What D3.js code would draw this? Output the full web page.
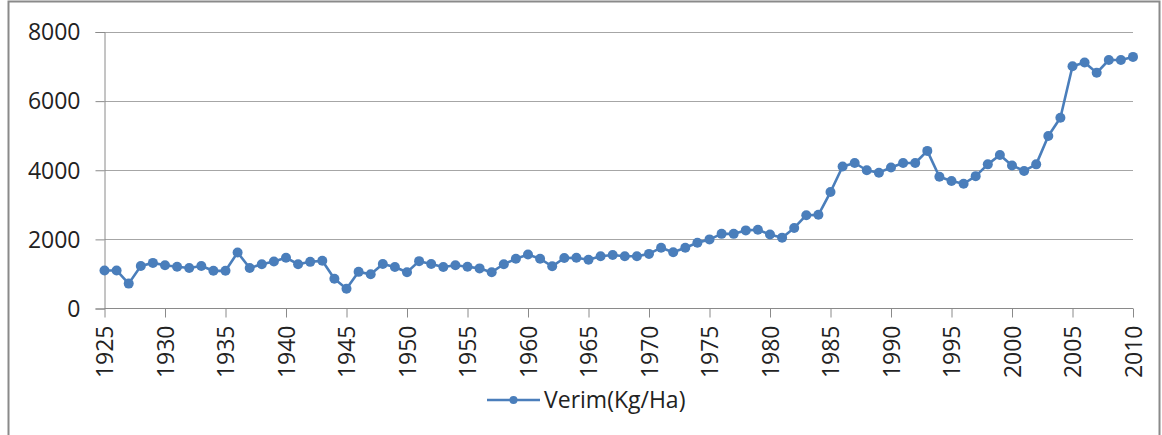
<!DOCTYPE html>
<html>
<head>
<meta charset="utf-8">
<script src="https://cdn.jsdelivr.net/npm/d3@7"></script>
<style>
  body { margin: 0; background: #fff; }
  svg text { font-family: "Open Sans", sans-serif; fill: #222; }
</style>
</head>
<body>
<div id="chart"></div>
<script>
// yield per year (Kg/Ha)
const years = [1925, 1926, 1927, 1928, 1929, 1930, 1931, 1932, 1933, 1934,
    1935, 1936, 1937, 1938, 1939, 1940, 1941, 1942, 1943, 1944,
    1945, 1946, 1947, 1948, 1949, 1950, 1951, 1952, 1953, 1954,
    1955, 1956, 1957, 1958, 1959, 1960, 1961, 1962, 1963, 1964,
    1965, 1966, 1967, 1968, 1969, 1970, 1971, 1972, 1973, 1974,
    1975, 1976, 1977, 1978, 1979, 1980, 1981, 1982, 1983, 1984,
    1985, 1986, 1987, 1988, 1989, 1990, 1991, 1992, 1993, 1994,
    1995, 1996, 1997, 1998, 1999, 2000, 2001, 2002, 2003, 2004,
    2005, 2006, 2007, 2008, 2009, 2010]

const verim = [1100, 1100, 720, 1230, 1320, 1250, 1210, 1170, 1230, 1090,
    1090, 1620, 1170, 1280, 1360, 1470, 1280, 1350, 1380, 860,
    570, 1060, 990, 1290, 1200, 1050, 1370, 1290, 1200, 1250,
    1210, 1160, 1050, 1280, 1440, 1560, 1440, 1220, 1460, 1470,
    1410, 1510, 1550, 1510, 1510, 1580, 1760, 1630, 1760, 1900,
    2000, 2160, 2160, 2260, 2280, 2140, 2050, 2330, 2700, 2710,
    3370, 4110, 4210, 4000, 3930, 4080, 4210, 4210, 4560, 3810,
    3690, 3610, 3830, 4170, 4440, 4140, 3980, 4170, 4990, 5520,
    7010, 7120, 6820, 7190, 7190, 7280]

const xTicks = [1925, 1930, 1935, 1940, 1945, 1950, 1955, 1960, 1965, 1970,
    1975, 1980, 1985, 1990, 1995, 2000, 2005, 2010]
const yTicks = [0, 2000, 4000, 6000, 8000]
const seriesName = 'Verim(Kg/Ha)'

const [width, height] = [1162, 435]
const blue = '#4a7ebb'

const svg = d3.select('#chart').append('svg')
    .attr('width', width)
    .attr('height', height)

// outer frame
svg.append('rect')
    .attr('x', 8.5).attr('y', 1.5)
    .attr('width', 1151).attr('height', 440)
    .attr('fill', 'none')
    .attr('stroke', '#8a8a8a')
    .attr('stroke-width', 2)

const x = d3.scaleLinear().domain([1925, 2010]).range([104.5, 1133])
const y = d3.scaleLinear().domain([0, 8000]).range([308.5, 32])

// gridlines
svg.append('g')
    .selectAll('line')
    .data(yTicks.filter(d => d > 0))
    .join('line')
    .attr('x1', x(1925)).attr('x2', x(2010))
    .attr('y1', d => Math.round(y(d)) + 0.5).attr('y2', d => Math.round(y(d)) + 0.5)
    .attr('stroke', '#a6a6a6')

// y axis
const yAxis = svg.append('g')
    .attr('transform', `translate(${x(1925)},0)`)
    .call(d3.axisLeft(y).tickValues(yTicks).tickSize(9).tickPadding(15).tickFormat(d3.format('d')))
yAxis.selectAll('path, line').attr('stroke', '#8a8a8a')
yAxis.selectAll('text')
    .style('font-size', '23px')
    .attr('fill', '#222')
    .attr('dy', '0.34em')

// x axis
const xAxis = svg.append('g')
    .attr('transform', `translate(0,${y(0)})`)
    .call(d3.axisBottom(x).tickValues(xTicks).tickSize(9).tickFormat(d3.format('d')))
xAxis.select('.domain').attr('d', `M${x(1925)},0H${x(2010)}`)
xAxis.selectAll('path, line').attr('stroke', '#8a8a8a')
xAxis.selectAll('text')
    .style('font-size', '23px')
    .attr('fill', '#222')
    .attr('transform', 'rotate(-90)')
    .attr('text-anchor', 'end')
    .attr('x', -17)
    .attr('y', 0)
    .attr('dy', '0.36em')

// series line and markers
const line = d3.line()
    .x((d, i) => x(years[i]))
    .y(d => y(d))

svg.append('path')
    .datum(verim)
    .attr('d', line)
    .attr('fill', 'none')
    .attr('stroke', blue)
    .attr('stroke-width', 2.6)
    .attr('stroke-linejoin', 'round')

svg.append('g')
    .selectAll('circle')
    .data(verim)
    .join('circle')
    .attr('cx', (d, i) => x(years[i]))
    .attr('cy', d => y(d))
    .attr('r', 5)
    .attr('fill', blue)

// legend
const legend = svg.append('g').attr('transform', 'translate(487,400)')
legend.append('line')
    .attr('x1', 0).attr('x2', 53)
    .attr('stroke', blue).attr('stroke-width', 2.6)
legend.append('circle')
    .attr('cx', 26.5).attr('r', 4)
    .attr('fill', blue)
legend.append('text')
    .attr('x', 57)
    .attr('dy', '0.36em')
    .style('font-size', '23px')
    .text(seriesName)
</script>
</body>
</html>
